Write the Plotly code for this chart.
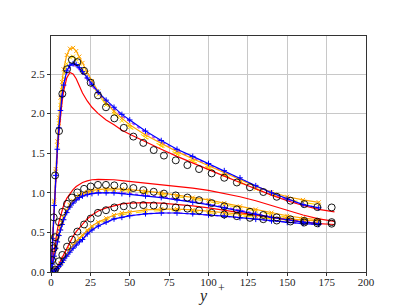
import plotly.graph_objects as go

# ---------------- DNS reference (circles) ----------------
dns_y = [0.7, 1.7, 2.6, 5.1, 7.2, 10.2, 13.3, 16.7, 21, 25.2, 29.8, 34.9, 40.2, 46.2, 52.3, 58.6,
         65.2, 71.7, 79.2, 86.6, 94, 102, 110, 118, 126.3, 134.8, 143.3, 152, 160.8, 169.1, 178.2]
dns_u = [0.33, 0.69, 1.22, 1.78, 2.25, 2.56, 2.68, 2.65, 2.54, 2.39, 2.23, 2.08, 1.94, 1.82, 1.71, 1.63,
         1.54, 1.47, 1.41, 1.35, 1.30, 1.245, 1.19, 1.13, 1.07, 1.01, 0.95, 0.90, 0.857, 0.82, 0.815]
dns_w = [0.15, 0.30, 0.44, 0.63, 0.76, 0.86, 0.94, 1.005, 1.05, 1.08, 1.10, 1.10, 1.094, 1.08, 1.06, 1.034,
         1.013, 0.99, 0.967, 0.94, 0.907, 0.87, 0.83, 0.79, 0.76, 0.72, 0.69, 0.665, 0.645, 0.635, 0.63]
dns_v = [0.0, 0.01, 0.03, 0.135, 0.215, 0.32, 0.41, 0.51, 0.60, 0.675, 0.747, 0.78, 0.815, 0.83, 0.845, 0.845,
         0.84, 0.83, 0.815, 0.80, 0.777, 0.747, 0.726, 0.705, 0.684, 0.667, 0.65, 0.638, 0.625, 0.615, 0.61]

# ---------------- model profiles ----------------
yp = [0, 1, 2, 3, 4, 5, 6, 7, 8, 10, 12, 14, 16, 18, 20, 23, 26, 30, 35, 40, 45, 50,
      60, 70, 80, 90, 100, 110, 120, 130, 140, 150, 160, 170, 180]

red_u = [0, 0.42, 0.84, 1.2, 1.5, 1.75, 1.97, 2.14, 2.28, 2.45, 2.52, 2.50, 2.44, 2.34, 2.26, 2.16, 2.08,
         2.0, 1.92, 1.86, 1.79, 1.74, 1.64, 1.55, 1.46, 1.38, 1.29, 1.21, 1.13, 1.05, 0.97, 0.90, 0.84, 0.79, 0.76]
red_w = [0, 0.15, 0.3, 0.42, 0.53, 0.63, 0.71, 0.78, 0.84, 0.93, 0.99, 1.04, 1.08, 1.11, 1.13, 1.15, 1.165,
         1.17, 1.17, 1.165, 1.155, 1.145, 1.12, 1.10, 1.08, 1.06, 1.03, 0.99, 0.95, 0.90, 0.84, 0.78, 0.72, 0.67, 0.64]
red_v = [0, 0.005, 0.02, 0.04, 0.07, 0.1, 0.14, 0.18, 0.22, 0.3, 0.38, 0.45, 0.51, 0.56, 0.61, 0.67, 0.72,
         0.77, 0.81, 0.84, 0.86, 0.87, 0.875, 0.87, 0.855, 0.835, 0.81, 0.78, 0.75, 0.72, 0.69, 0.66, 0.63, 0.61, 0.60]

blue_u = [0, 0.42, 0.84, 1.22, 1.55, 1.82, 2.04, 2.22, 2.36, 2.54, 2.61, 2.63, 2.62, 2.58, 2.53, 2.45, 2.37,
          2.27, 2.17, 2.08, 1.99, 1.92, 1.78, 1.66, 1.55, 1.46, 1.37, 1.28, 1.19, 1.09, 1.0, 0.92, 0.85, 0.81, 0.80]
blue_w = [0, 0.1, 0.2, 0.3, 0.38, 0.46, 0.53, 0.6, 0.66, 0.75, 0.82, 0.87, 0.91, 0.94, 0.96, 0.98, 0.99,
          1.0, 1.0, 1.0, 0.99, 0.98, 0.96, 0.94, 0.91, 0.88, 0.85, 0.81, 0.77, 0.73, 0.69, 0.66, 0.63, 0.61, 0.60]
blue_v = [0, 0.003, 0.01, 0.025, 0.045, 0.07, 0.09, 0.12, 0.15, 0.2, 0.25, 0.3, 0.34, 0.38, 0.41, 0.48, 0.53,
          0.58, 0.63, 0.67, 0.69, 0.71, 0.735, 0.745, 0.745, 0.735, 0.72, 0.705, 0.685, 0.665, 0.645, 0.625, 0.61, 0.60, 0.595]

orange_u = [0, 0.45, 0.9, 1.3, 1.65, 1.95, 2.2, 2.4, 2.56, 2.74, 2.82, 2.83, 2.79, 2.72, 2.64, 2.52, 2.41,
            2.28, 2.14, 2.03, 1.94, 1.86, 1.73, 1.62, 1.52, 1.43, 1.34, 1.25, 1.16, 1.08, 1.01, 0.95, 0.91, 0.88, 0.87]
orange_w = [0, 0.11, 0.22, 0.32, 0.41, 0.49, 0.56, 0.63, 0.69, 0.78, 0.85, 0.9, 0.94, 0.97, 0.99, 1.01, 1.03,
            1.04, 1.05, 1.05, 1.045, 1.04, 1.02, 1.0, 0.97, 0.94, 0.91, 0.87, 0.83, 0.79, 0.75, 0.71, 0.68, 0.66, 0.65]
orange_v = [0, 0.004, 0.015, 0.03, 0.055, 0.08, 0.11, 0.14, 0.17, 0.23, 0.29, 0.34, 0.39, 0.43, 0.47, 0.53, 0.58,
            0.63, 0.68, 0.72, 0.745, 0.76, 0.785, 0.795, 0.795, 0.785, 0.77, 0.75, 0.73, 0.71, 0.69, 0.67, 0.655, 0.645, 0.64]

gold_u = [0, 0.44, 0.88, 1.27, 1.6, 1.88, 2.11, 2.3, 2.45, 2.63, 2.71, 2.72, 2.69, 2.63, 2.56, 2.46, 2.36,
          2.24, 2.11, 2.0, 1.91, 1.83, 1.7, 1.59, 1.49, 1.4, 1.31, 1.22, 1.13, 1.05, 0.98, 0.92, 0.88, 0.85, 0.84]
gold_w = [0, 0.11, 0.21, 0.31, 0.4, 0.48, 0.55, 0.62, 0.68, 0.77, 0.84, 0.89, 0.93, 0.96, 0.98, 1.0, 1.02,
          1.03, 1.035, 1.035, 1.03, 1.02, 1.0, 0.98, 0.95, 0.92, 0.89, 0.85, 0.81, 0.77, 0.73, 0.69, 0.66, 0.64, 0.63]
gold_v = [0, 0.004, 0.013, 0.03, 0.05, 0.075, 0.1, 0.13, 0.16, 0.22, 0.28, 0.33, 0.37, 0.41, 0.45, 0.51, 0.56,
          0.61, 0.66, 0.70, 0.725, 0.74, 0.765, 0.775, 0.775, 0.765, 0.75, 0.73, 0.71, 0.69, 0.67, 0.65, 0.635, 0.625, 0.62]

purple_u = [0, 0.42, 0.84, 1.22, 1.54, 1.81, 2.03, 2.2, 2.34, 2.52, 2.59, 2.61, 2.6, 2.56, 2.51, 2.43, 2.35,
            2.25, 2.15, 2.06, 1.97, 1.9, 1.76, 1.64, 1.53, 1.44, 1.35, 1.26, 1.17, 1.08, 0.99, 0.91, 0.85, 0.81, 0.79]
purple_w = [0, 0.1, 0.2, 0.3, 0.38, 0.46, 0.53, 0.6, 0.66, 0.75, 0.82, 0.87, 0.91, 0.94, 0.96, 0.98, 0.99,
            1.0, 1.005, 1.005, 1.0, 0.99, 0.97, 0.95, 0.92, 0.89, 0.86, 0.82, 0.78, 0.74, 0.7, 0.67, 0.64, 0.62, 0.61]
purple_v = [0, 0.003, 0.01, 0.025, 0.045, 0.07, 0.09, 0.12, 0.15, 0.2, 0.25, 0.3, 0.34, 0.38, 0.41, 0.48, 0.53,
            0.58, 0.63, 0.67, 0.69, 0.71, 0.735, 0.745, 0.745, 0.735, 0.72, 0.705, 0.685, 0.665, 0.645, 0.625, 0.61, 0.60, 0.595]

x_ticks = [0, 25, 50, 75, 100, 125, 150, 175, 200]
y_ticks = [0.0, 0.5, 1.0, 1.5, 2.0, 2.5]

fig = go.Figure()

def add_model(vals, color, dash, marker, width=1.2, xmax=180):
    xs = [y for y in yp if y <= xmax]
    for v in vals:
        tr = dict(x=xs, y=v[:len(xs)], line=dict(color=color, width=width, dash=dash),
                  showlegend=False, hoverinfo="skip")
        if marker:
            tr["mode"] = "lines+markers"
            tr["marker"] = dict(symbol=marker, size=4, color=color, line=dict(color=color, width=1))
        else:
            tr["mode"] = "lines"
        fig.add_trace(go.Scatter(**tr))

add_model([gold_u, gold_w, gold_v], "#ffd700", "dash", "x-thin", width=1.1, xmax=175)
add_model([purple_u, purple_w, purple_v], "#b040ff", "dot", None, width=1.5, xmax=178)
add_model([orange_u, orange_w, orange_v], "#ffa500", "solid", "x-thin", width=1.2, xmax=175)
add_model([red_u, red_w, red_v], "#ff0000", "solid", None, width=1.2, xmax=182)
add_model([blue_u, blue_w, blue_v], "#0000ff", "solid", "cross-thin", width=1.2, xmax=178)

for v in [dns_u, dns_w, dns_v]:
    fig.add_trace(go.Scatter(
        x=dns_y, y=v, mode="markers",
        marker=dict(symbol="circle-open", size=7, color="black", line=dict(color="black", width=0.9)),
        showlegend=False, hoverinfo="skip"))

font = dict(family="Liberation Serif, DejaVu Serif, serif", size=11, color="#222")

fig.update_layout(
    width=407, height=305,
    margin=dict(l=51, r=41, t=36, b=33, autoexpand=False),
    paper_bgcolor="white", plot_bgcolor="white",
    font=font,
    xaxis=dict(range=[0, 200], tickvals=x_ticks, ticktext=[str(t) for t in x_ticks],
               showgrid=True, gridcolor="#c8c8c8", gridwidth=1, zeroline=False,
               showline=True, linecolor="#333", linewidth=1, mirror=True,
               ticks="outside", ticklen=3, tickcolor="#333", automargin=False,
               ticklabelstandoff=-3),
    yaxis=dict(range=[0, 2.98], tickvals=y_ticks, ticktext=["%.1f" % t for t in y_ticks],
               showgrid=True, gridcolor="#c8c8c8", gridwidth=1, zeroline=False,
               showline=True, linecolor="#333", linewidth=1, mirror=True,
               ticks="outside", ticklen=3, tickcolor="#333", automargin=False),
    annotations=[
        dict(text="<i>y</i>", x=0.4825, y=-0.102, xref="paper", yref="paper",
             xanchor="center", yanchor="middle", showarrow=False,
             font=dict(size=16, family="Liberation Serif, serif", color="#222")),
        dict(text="+", x=0.54, y=-0.066, xref="paper", yref="paper",
             xanchor="center", yanchor="middle", showarrow=False,
             font=dict(size=12, family="Liberation Serif, serif", color="#222")),
    ],
)

fig.write_html("out.html", config={"displayModeBar": False},
               post_script="document.body.style.margin='0';document.body.style.overflow='hidden';")
